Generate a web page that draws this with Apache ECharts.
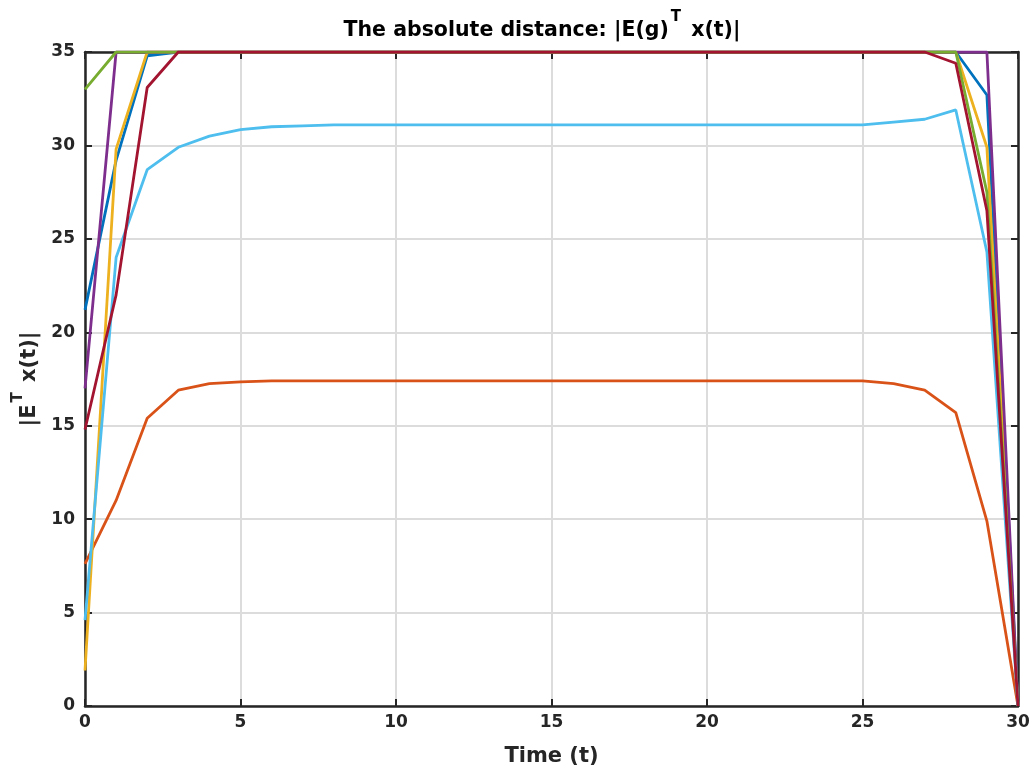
<!DOCTYPE html>
<html>
<head>
<meta charset="utf-8">
<script src="https://cdn.jsdelivr.net/npm/echarts@6/dist/echarts.min.js"></script>
<style>html,body{margin:0;padding:0;background:#fff}#c{width:1034px;height:783px}</style>
</head>
<body>
<div id="c"></div>
<script>
var times = [0,1,2,3,4,5,6,7,8,9,10,11,12,13,14,15,16,17,18,19,20,21,22,23,24,25,26,27,28,29,30];
var xTicks = [0,5,10,15,20,25,30];
var yTicks = [0,5,10,15,20,25,30,35];

var blue    = [21.2,29.2,34.8,35,35,35,35,35,35,35,35,35,35,35,35,35,35,35,35,35,35,35,35,35,35,35,35,35,35,32.7,0];
var orange  = [7.6,11.0,15.4,16.9,17.25,17.35,17.4,17.4,17.4,17.4,17.4,17.4,17.4,17.4,17.4,17.4,17.4,17.4,17.4,17.4,17.4,17.4,17.4,17.4,17.4,17.4,17.25,16.9,15.7,9.9,0];
var yellow  = [1.9,29.8,35,35,35,35,35,35,35,35,35,35,35,35,35,35,35,35,35,35,35,35,35,35,35,35,35,35,35,29.9,0];
var purple  = [17,35,35,35,35,35,35,35,35,35,35,35,35,35,35,35,35,35,35,35,35,35,35,35,35,35,35,35,35,35,0];
var green   = [33,35,35,35,35,35,35,35,35,35,35,35,35,35,35,35,35,35,35,35,35,35,35,35,35,35,35,35,35,27.5,0];
var cyan    = [4.6,24,28.7,29.9,30.5,30.85,31.0,31.05,31.1,31.1,31.1,31.1,31.1,31.1,31.1,31.1,31.1,31.1,31.1,31.1,31.1,31.1,31.1,31.1,31.1,31.1,31.25,31.4,31.9,24.3,0];
var darkred = [14.8,22,33.1,35,35,35,35,35,35,35,35,35,35,35,35,35,35,35,35,35,35,35,35,35,35,35,35,35,34.4,26.5,0];

var seriesData = [blue, orange, yellow, purple, green, cyan, darkred];
var colors = ['#0072BD','#D95319','#EDB120','#7E2F8E','#77AC30','#4DBEEE','#A2142F'];

function pairs(arr){ return arr.map(function(v,i){ return [times[i], v]; }); }

var FONT = '"DejaVu Sans", "Liberation Sans", Arial, sans-serif';
var axisCol = '#262626';

var chart = echarts.init(document.getElementById('c'), null, {renderer:'canvas'});
chart.setOption({
  animation: false,
  backgroundColor: '#fff',
  title: {
    text: '{t|The absolute distance: |E(g)}{s|T}{t| x(t)|}',
    left: 537, top: 5, textAlign: 'center',
    textStyle: {
      rich: {
        t: {fontFamily: FONT, fontWeight: 'bold', fontSize: 20.5, color: '#000', verticalAlign: 'bottom', lineHeight: 31},
        s: {fontFamily: FONT, fontWeight: 'bold', fontSize: 15, color: '#000', verticalAlign: 'top', lineHeight: 31, padding:[0,3,10,2]}
      }
    }
  },
  grid: {left: 85, right: 16, top: 52, bottom: 77, containLabel: false},
  xAxis: [{
    type: 'value', min: 0, max: 30, interval: 5,
    name: 'Time (t)', nameLocation: 'middle', nameGap: 40,
    nameTextStyle: {fontFamily: FONT, fontWeight: 'bold', fontSize: 21, color: axisCol},
    axisLine: {show: true, onZero: false, lineStyle: {color: axisCol, width: 2.5}},
    axisTick: {show: true, inside: true, length: 7, lineStyle: {color: axisCol, width: 2}},
    axisLabel: {fontFamily: FONT, fontWeight: 'bold', fontSize: 17, color: axisCol, margin: 8,
      customValues: xTicks},
    splitLine: {show: true, lineStyle: {color: '#dcdcdc', width: 2}}
  },{
    type: 'value', min: 0, max: 30, interval: 5, position: 'top',
    axisLine: {show: true, onZero: false, lineStyle: {color: axisCol, width: 2.5}},
    axisTick: {show: true, inside: true, length: 7, lineStyle: {color: axisCol, width: 2}},
    axisLabel: {show: false}, splitLine: {show: false}
  }],
  yAxis: [{
    type: 'value', min: 0, max: 35, interval: 5,
    name: '{n||E}{s|T}{n| x(t)|}', nameLocation: 'middle', nameGap: 36, nameRotate: 90,
    nameTextStyle: {
      rich: {
        n: {fontFamily: FONT, fontWeight: 'bold', fontSize: 21, color: axisCol, verticalAlign: 'bottom', lineHeight: 30},
        s: {fontFamily: FONT, fontWeight: 'bold', fontSize: 15, color: axisCol, verticalAlign: 'top', lineHeight: 30, padding:[0,3,10,2]}
      }
    },
    axisLine: {show: true, onZero: false, lineStyle: {color: axisCol, width: 2.5}},
    axisTick: {show: true, inside: true, length: 7, lineStyle: {color: axisCol, width: 2}},
    axisLabel: {fontFamily: FONT, fontWeight: 'bold', fontSize: 17, color: axisCol, margin: 10},
    splitLine: {show: true, lineStyle: {color: '#dcdcdc', width: 2}}
  },{
    type: 'value', min: 0, max: 35, interval: 5, position: 'right',
    axisLine: {show: true, onZero: false, lineStyle: {color: axisCol, width: 2.5}},
    axisTick: {show: true, inside: true, length: 7, lineStyle: {color: axisCol, width: 2}},
    axisLabel: {show: false}, splitLine: {show: false}
  }],
  series: seriesData.map(function(d, i){
    return {
      type: 'line', data: pairs(d), xAxisIndex: 0, yAxisIndex: 0,
      showSymbol: false, symbol: 'none', clip: true, z: 3 + i,
      lineStyle: {color: colors[i], width: 2.8},
      itemStyle: {color: colors[i]}
    };
  })
});
</script>
</body>
</html>
